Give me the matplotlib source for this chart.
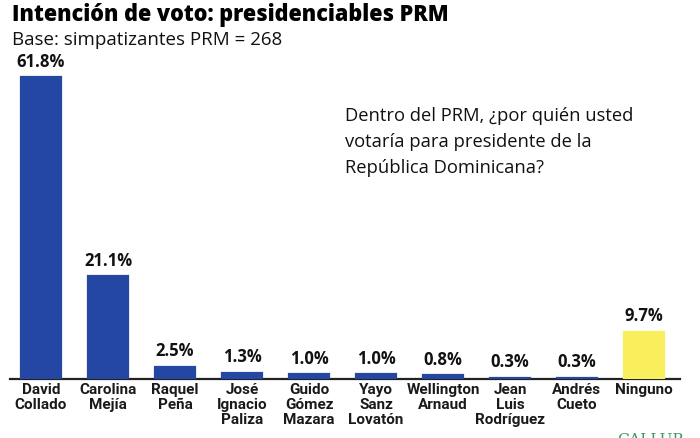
import matplotlib
matplotlib.use("Agg")
import matplotlib.pyplot as plt

categories = ["David\nCollado", "Carolina\nMejía", "Raquel\nPeña", "José\nIgnacio\nPaliza",
              "Guido\nGómez\nMazara", "Yayo\nSanz\nLovatón", "Wellington\nArnaud",
              "Jean\nLuis\nRodríguez", "Andrés\nCueto", "Ninguno"]
values = [61.8, 21.1, 2.5, 1.3, 1.0, 1.0, 0.8, 0.3, 0.3, 9.7]
value_labels = ["61.8%", "21.1%", "2.5%", "1.3%", "1.0%", "1.0%", "0.8%", "0.3%", "0.3%", "9.7%"]
title = "Intención de voto: presidenciables PRM"
subtitle = "Base: simpatizantes PRM = 268"
question = "Dentro del PRM, ¿por quién usted\nvotaría para presidente de la\nRepública Dominicana?"

blue = "#2447a3"
yellow = "#f9ef5c"
colors = [blue] * 9 + [yellow]
txt = "#111111"

W, H = 700, 438
fig = plt.figure(figsize=(7, 4.38), dpi=100)
fig.patch.set_facecolor("white")

ax_left, ax_right, ax_bottom = 10, 680, 379
px_per_unit = 4.88
ytop = 66
ax_h = ytop * px_per_unit
ax = fig.add_axes([ax_left / W, (H - ax_bottom) / H, (ax_right - ax_left) / W, ax_h / H])
x = list(range(len(values)))
ax.bar(x, values, width=0.6, color=colors, edgecolor=colors, linewidth=1.6, zorder=3)
ax.set_xlim((ax_left - 41) / 67, (ax_right - 41) / 67)
ax.set_ylim(0, ytop)
for s in ["top", "right", "left"]:
    ax.spines[s].set_visible(False)
ax.spines["bottom"].set_color("#222222")
ax.spines["bottom"].set_linewidth(1.6)
ax.spines["bottom"].set_zorder(1)
ax.set_yticks([])
ax.set_xticks(x)
ax.set_xticklabels(categories, fontsize=11, fontweight="bold", color="#1a1a1a",
                   linespacing=1.1, family="Roboto")
ax.tick_params(axis="x", length=0, pad=3)
ax.patch.set_alpha(0)

for xi, v, lab in zip(x, values, value_labels):
    ax.text(xi, v + 1.3, lab, ha="center", va="bottom", fontsize=12, fontweight="bold",
            color=txt, family="Open Sans")

fig.text(12 / W, 1 - 15 / H, title, ha="left", va="center", fontsize=15.6,
         fontweight="heavy", color="#000000", family="Open Sans")
fig.text(12 / W, 1 - 40 / H, subtitle, ha="left", va="center", fontsize=13.5,
         color="#111111", family="Open Sans")
fig.text(345 / W, 1 - 142 / H, question, ha="left", va="center", fontsize=13.2,
         color="#111111", family="Open Sans", linespacing=1.55)
fig.text(617 / W, 1 - 440 / H, "GALLUP", ha="left", va="center", fontsize=11,
         color="#3a9a5a", family="DejaVu Serif")

fig.savefig("out.png", dpi=100)
